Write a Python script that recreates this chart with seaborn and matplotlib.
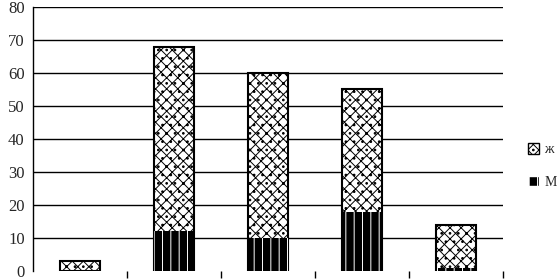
import pandas as pd
import matplotlib.pyplot as plt
import seaborn as sns
from matplotlib.patches import Patch

# -------------------------------
# data
# -------------------------------
groups = ["1", "2", "3", "4", "5"]
zh_values = [3, 56, 50, 37, 13]   # ж
m_values = [0, 12, 10, 18, 1]     # М

df = pd.DataFrame({"group": groups, "zh": zh_values, "m": m_values})
df["total"] = df["zh"] + df["m"]

sns.set_style("white")
plt.rcParams["font.family"] = ["Liberation Serif", "DejaVu Serif"]
plt.rcParams["hatch.linewidth"] = 0.7

fig = plt.figure(figsize=(5.58, 2.8), dpi=100)
ax = fig.add_axes([33 / 558, 9 / 280, 470 / 558, 264 / 280])

# top part (total height) with cross hatch
sns.barplot(data=df, x="group", y="total", color="white", width=0.42,
            edgecolor="black", linewidth=1.5, ax=ax)
for p in ax.patches:
    p.set_hatch("xxx..")

n_top = len(ax.patches)

# bottom part М: black with white vertical lines
sns.barplot(data=df, x="group", y="m", color="black", width=0.42,
            edgecolor="white", linewidth=0, ax=ax)
for p in ax.patches[n_top:]:
    p.set_hatch("||")

ax.set_ylim(0, 80)
ax.set_xlim(-0.5, 4.5)
ax.set_yticks(range(0, 81, 10))
ax.tick_params(axis="y", length=0, labelsize=12, pad=6)
ax.set_xticks([0.5, 1.5, 2.5, 3.5, 4.5])
ax.set_xticklabels([])
ax.tick_params(axis="x", direction="out", length=5, width=1, color="black", bottom=True)
ax.set_xlabel("")
ax.set_ylabel("")

ax.grid(axis="y", color="black", linewidth=1)
ax.set_axisbelow(True)
ax.get_ygridlines()[0].set_visible(False)

for s in ["top", "right", "bottom"]:
    ax.spines[s].set_visible(False)
ax.spines["left"].set_color("black")
ax.spines["left"].set_linewidth(1)

handles = [
    Patch(facecolor="white", edgecolor="black", hatch="xxx..", label="ж"),
    Patch(facecolor="black", edgecolor="white", hatch="||", label="М"),
]
fig.legend(handles=handles, loc="center left", bbox_to_anchor=(518 / 558, 1 - 166 / 280),
           frameon=False, handlelength=0.8, handleheight=0.8, handletextpad=0.4,
           labelspacing=1.4, fontsize=10, borderpad=0.2)

fig.savefig("out.png", dpi=100)
